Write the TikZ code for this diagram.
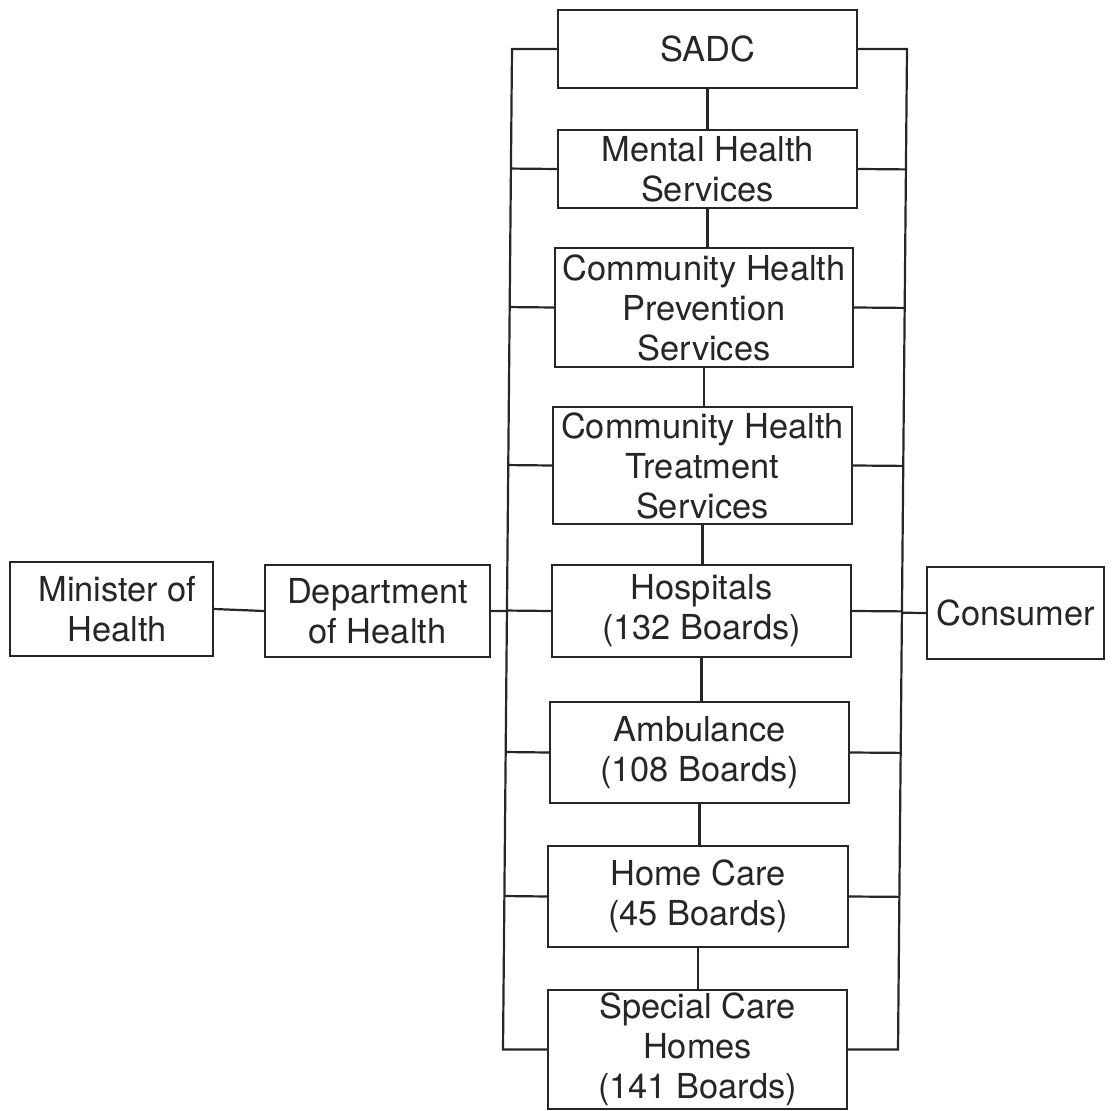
\documentclass[tikz,border=0pt]{standalone}
\usepackage{fontspec}
\setmainfont{TeX Gyre Heros}
\usetikzlibrary{calc}
\begin{document}
\begin{tikzpicture}[x=0.5pt,y=-0.5pt,
  box/.style={draw=black!85, line width=1.1pt, inner sep=0pt, align=center,
    font=\fontsize{17.2}{20}\selectfont, text=black!85},
  conn/.style={draw=black!85, line width=1.1pt}]
\useasboundingbox (0,0) rectangle (1113,1111);
% column boxes
\node[box, minimum width=149.5pt, minimum height=39pt]   (sadc) at (707.5,49)   {SADC};
\node[box, minimum width=149.5pt, minimum height=39pt]   (mhs)  at (707.5,169)  {Mental Health\\Services};
\node[box, minimum width=149pt,   minimum height=59.5pt] (chp)  at (704,307.5)  {Community Health\\Prevention\\Services};
\node[box, minimum width=149.5pt, minimum height=58.5pt] (cht)  at (702.5,465.5){Community Health\\Treatment\\Services};
\node[box, minimum width=149.5pt, minimum height=46pt]   (hosp) at (701.5,611)  {Hospitals\\(132 Boards)};
\node[box, minimum width=149.5pt, minimum height=50.5pt] (amb)  at (699.5,752.5){Ambulance\\(108 Boards)};
\node[box, minimum width=150pt,   minimum height=50.5pt] (home) at (698,896.5)  {Home Care\\(45 Boards)};
\node[box, minimum width=149.5pt, minimum height=59.5pt] (spec) at (697.5,1049.5){Special Care\\Homes\\(141 Boards)};
% side boxes
\node[box, minimum width=101.5pt, minimum height=47pt] (min)  at (111.5,609) {\hspace{6pt}Minister of\\\hspace{6pt}Health};
\node[box, minimum width=112.5pt, minimum height=46pt] (dept) at (377.5,611) {Department\\of Health};
\node[box, minimum width=88.5pt,  minimum height=46pt] (cons) at (1015.5,613) {Consumer};
% bus ends
\coordinate (LT) at (512,49);
\coordinate (LB) at (503,1049.5);
\coordinate (RT) at (907,49);
\coordinate (RB) at (898,1049.5);
% buses
\draw[conn] (sadc.west) -- (LT) -- (LB) -- (spec.west);
\draw[conn] (sadc.east) -- (RT) -- (RB) -- (spec.east);
\foreach \n in {mhs,chp,cht,hosp,amb,home}{
  \draw[conn] (\n.west) -- ($(LT)!(\n.west)!(LB)$);
  \draw[conn] (\n.east) -- ($(RT)!(\n.east)!(RB)$);
}
% vertical chain
\draw[conn] (sadc.south) -- (sadc.south |- mhs.north);
\draw[conn] (mhs.south) -- (mhs.south |- chp.north);
\draw[conn] (chp.south) -- (chp.south |- cht.north);
\draw[conn] (cht.south) -- (cht.south |- hosp.north);
\draw[conn] (hosp.south) -- (hosp.south |- amb.north);
\draw[conn] (amb.south) -- (amb.south |- home.north);
\draw[conn] (home.south) -- (home.south |- spec.north);
% side links
\draw[conn] (min.east) -- (dept.west);
\draw[conn] (dept.east) -- ($(LT)!(dept.east)!(LB)$);
\draw[conn] (cons.west) -- ($(RT)!(cons.west)!(RB)$);
\end{tikzpicture}
\end{document}
